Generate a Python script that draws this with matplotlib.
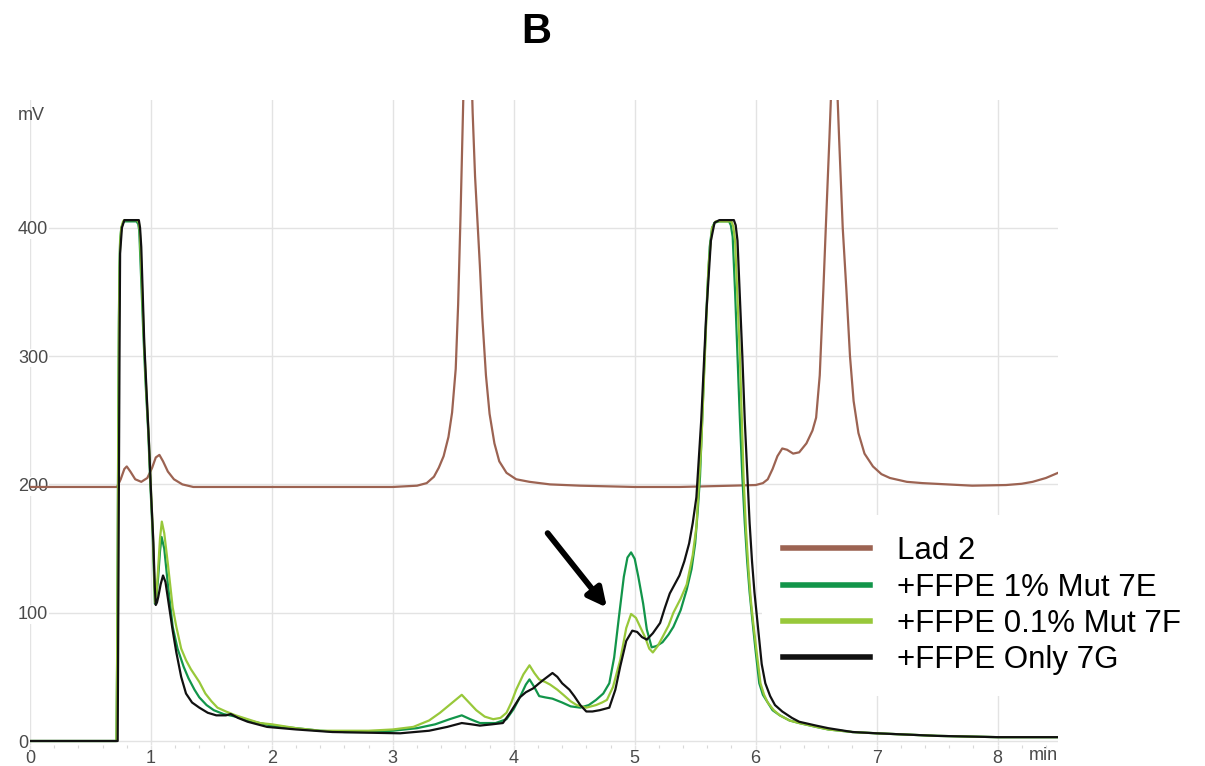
import numpy as np
import matplotlib
matplotlib.use('Agg')
import matplotlib.pyplot as plt

plt.rcParams['font.family'] = ['Liberation Sans', 'DejaVu Sans']

# --- data (time in min, signal in mV) ---
lad_t = [0, 0.5, 0.72, 0.75, 0.78, 0.80, 0.83, 0.87, 0.92, 0.97, 1.01, 1.04, 1.07, 1.10, 1.14, 1.19, 1.26, 1.35,
         1.5, 2.0, 2.5, 3.0, 3.2, 3.28, 3.34, 3.38, 3.42, 3.46, 3.49, 3.52, 3.54, 3.56, 3.58, 3.60, 3.62,
         3.64, 3.66, 3.68, 3.70, 3.72, 3.74, 3.77, 3.80, 3.84, 3.88, 3.94, 4.02, 4.13, 4.3, 4.55, 5.0, 5.37,
         5.8, 6.0, 6.06, 6.10, 6.14, 6.18, 6.22, 6.26, 6.31, 6.36, 6.42, 6.47, 6.50, 6.53, 6.56, 6.58, 6.61,
         6.63, 6.65, 6.67, 6.69, 6.72, 6.75, 6.78, 6.81, 6.85, 6.90, 6.97, 7.04, 7.11, 7.25, 7.38, 7.79,
         8.07, 8.2, 8.29, 8.4, 8.5]
lad_v = [198, 198, 198, 204, 212, 214, 210, 204, 202, 205, 213, 221, 223, 218, 210, 204, 200, 198,
         198, 198, 198, 198, 199, 201, 206, 213, 222, 237, 256, 290, 340, 410, 490, 570, 600,
         560, 490, 440, 405, 370, 330, 285, 255, 232, 218, 209, 204, 202, 200, 199, 198, 198,
         199, 199.5, 201, 204, 212, 222, 228, 227, 224, 225, 232, 242, 252, 285, 352, 400, 470,
         520, 560, 520, 470, 400, 352, 300, 265, 240, 224, 214, 208, 205, 202, 201, 199,
         199.5, 200.5, 202, 205, 209]

mut1_t = [0, 0.5, 0.715, 0.72, 0.725, 0.73, 0.735, 0.74, 0.745, 0.755, 0.77, 0.78, 0.88, 0.895, 0.903,
          0.915, 0.937, 0.955, 0.978, 0.995, 1.014, 1.025, 1.033, 1.045, 1.06, 1.075, 1.088, 1.11, 1.14,
          1.18, 1.22, 1.27, 1.31, 1.36, 1.40, 1.46, 1.52, 1.6, 1.7, 1.8, 1.9, 2.0, 2.2, 2.4, 2.6, 2.8,
          3.0, 3.2, 3.35, 3.47, 3.57, 3.64, 3.72, 3.85, 3.94, 4.0, 4.05, 4.10, 4.13, 4.17, 4.21, 4.26,
          4.32, 4.40, 4.47, 4.55, 4.62, 4.68, 4.74, 4.79, 4.83, 4.87, 4.91, 4.94, 4.97, 5.00, 5.03, 5.07,
          5.10, 5.14, 5.18, 5.23, 5.28, 5.32, 5.38, 5.43, 5.47, 5.50, 5.52, 5.54, 5.57, 5.60, 5.62, 5.64,
          5.66, 5.70, 5.78, 5.795, 5.81, 5.83, 5.85, 5.87, 5.89, 5.91, 5.93, 5.95, 5.97, 6.00, 6.03, 6.06,
          6.10, 6.14, 6.2, 6.28, 6.36, 6.5, 6.6, 6.8, 7.0, 7.5, 8.0, 8.5]
mut1_v = [0, 0, 0, 60, 150, 250, 330, 370, 390, 400, 404, 405, 405, 403, 398,
          370, 318, 280, 240, 200, 162, 130, 107, 112, 128, 148, 159, 150, 122,
          89, 72, 58, 49, 40, 34, 28, 24, 21, 19, 16, 14, 12, 10, 8, 7, 7,
          8, 10, 13, 17, 20, 17, 14, 14, 17, 25, 34, 44, 48, 42, 35, 34,
          33, 30, 27, 26, 28, 32, 37, 45, 65, 97, 128, 143, 147, 142, 128, 107,
          87, 73, 74, 77, 83, 89, 102, 118, 134, 154, 178, 206, 280, 350, 385, 400,
          404, 405, 405, 402, 393, 350, 300, 250, 206, 170, 140, 116, 97, 70, 45, 36,
          30, 24, 20, 16, 14, 11, 9, 7, 6, 4, 3, 3]

mut01_t = [0, 0.5, 0.715, 0.72, 0.725, 0.73, 0.735, 0.74, 0.745, 0.755, 0.77, 0.78, 0.885, 0.9, 0.908,
           0.92, 0.94, 0.958, 0.98, 0.998, 1.016, 1.027, 1.034, 1.046, 1.06, 1.075, 1.09, 1.11, 1.14,
           1.18, 1.21, 1.25, 1.29, 1.33, 1.40, 1.45, 1.50, 1.55, 1.62, 1.7, 1.8, 1.9, 2.0, 2.2, 2.4, 2.6,
           2.8, 3.0, 3.17, 3.3, 3.39, 3.48, 3.57, 3.63, 3.69, 3.76, 3.83, 3.89, 3.94, 3.98, 4.02, 4.08,
           4.13, 4.17, 4.21, 4.26, 4.30, 4.36, 4.41, 4.47, 4.52, 4.60, 4.68, 4.73, 4.77, 4.82, 4.88, 4.93,
           4.97, 5.01, 5.05, 5.09, 5.12, 5.15, 5.19, 5.23, 5.28, 5.32, 5.38, 5.43, 5.48, 5.51, 5.55, 5.58,
           5.61, 5.64, 5.67, 5.80, 5.815, 5.83, 5.85, 5.87, 5.90, 5.92, 5.94, 5.96, 5.98, 6.01, 6.04, 6.07,
           6.10, 6.15, 6.2, 6.28, 6.36, 6.5, 6.6, 6.8, 7.0, 7.5, 8.0, 8.5]
mut01_v = [0, 0, 0, 55, 140, 240, 320, 365, 388, 400, 405, 406, 406, 404, 398,
           370, 318, 280, 240, 200, 162, 130, 108, 115, 135, 158, 171, 162, 138,
           104, 89, 72, 63, 56, 46, 37, 31, 26, 23, 20, 17, 14, 13, 10, 8, 8,
           8, 9, 11, 16, 22, 29, 36, 30, 24, 19, 17, 18, 22, 30, 40, 52,
           59, 53, 48, 46, 44, 40, 36, 31, 28, 26, 28, 30, 32, 42, 63, 88,
           99, 96, 88, 80, 72, 69, 74, 81, 90, 100, 111, 122, 145, 167, 230, 300,
           370, 400, 405, 405, 401, 390, 345, 300, 206, 165, 135, 110, 92, 68, 45, 36,
           30, 24, 20, 16, 14, 11, 9, 7, 6, 4, 3, 3]

only_t = [0, 0.5, 0.725, 0.73, 0.735, 0.74, 0.745, 0.76, 0.78, 0.90, 0.91, 0.92, 0.945, 0.965, 0.985,
          1.0, 1.02, 1.032, 1.04, 1.05, 1.06, 1.08, 1.10, 1.12, 1.15, 1.18, 1.21, 1.25, 1.29, 1.34, 1.40,
          1.47, 1.54, 1.62, 1.66, 1.72, 1.8, 1.96, 2.2, 2.5, 3.06, 3.3, 3.45, 3.57, 3.65, 3.72, 3.82, 3.91,
          3.97, 4.05, 4.10, 4.16, 4.21, 4.25, 4.32, 4.36, 4.40, 4.46, 4.50, 4.55, 4.60, 4.65, 4.71, 4.79,
          4.84, 4.88, 4.93, 4.98, 5.02, 5.06, 5.10, 5.15, 5.21, 5.25, 5.29, 5.33, 5.37, 5.41, 5.45, 5.48,
          5.51, 5.55, 5.59, 5.63, 5.66, 5.70, 5.82, 5.835, 5.85, 5.87, 5.89, 5.91, 5.93, 5.95, 5.97, 5.99,
          6.02, 6.05, 6.08, 6.12, 6.16, 6.22, 6.3, 6.36, 6.5, 6.6, 6.8, 7.0, 7.5, 8.0, 8.5]
only_v = [0, 0, 0, 100, 200, 300, 380, 400, 406, 406, 400, 385, 310, 270, 230,
          195, 155, 120, 106, 108, 112, 122, 129, 124, 105, 86, 69, 50, 37, 30, 26,
          22, 20, 20, 21, 18, 15, 11, 9, 7, 6, 8, 11, 14, 13, 12, 13, 14,
          22, 34, 38, 41, 45, 48, 53, 50, 45, 40, 35, 28, 23, 23, 24, 26,
          40, 58, 78, 86, 85, 81, 79, 84, 92, 104, 115, 122, 129, 140, 154, 170,
          190, 250, 330, 390, 404, 406, 406, 402, 390, 345, 300, 250, 210, 170, 140, 116,
          88, 60, 45, 35, 28, 23, 18, 15, 12, 10, 7, 6, 4, 3, 3]

series = [('Lad 2', lad_t, lad_v, '#9c6352'),
          ('+FFPE 1% Mut 7E', mut1_t, mut1_v, '#12954a'),
          ('+FFPE 0.1% Mut 7F', mut01_t, mut01_v, '#98c83a'),
          ('+FFPE Only 7G', only_t, only_v, '#111111')]

x_ticks = [0, 1, 2, 3, 4, 5, 6, 7, 8]
y_ticks = [0, 100, 200, 300, 400]
arrow_tail = (4.28, 162)
arrow_head = (4.77, 104)

W, H = 1205, 766
fig = plt.figure(figsize=(W / 100, H / 100), dpi=100)
ax = fig.add_axes([30 / W, (H - 744.85) / H, 1028 / W, (744.85 - 99.5) / H])

for name, t, v, c in series:
    ax.plot(t, v, color=c, lw=1.6, label=name, solid_joinstyle='round', zorder=2)

ax.set_xlim(0, 8.5); ax.set_ylim(-3, 500)
ax.set_xticks(x_ticks); ax.set_yticks(y_ticks)
ax.set_xticks(np.arange(0, 8.5, 0.2), minor=True)
ax.grid(True, color='#e3e3e3', lw=1.0)
for s in ax.spines.values():
    s.set_visible(False)
ax.tick_params(axis='x', which='major', length=3.5, color='#e3e3e3', width=1.0, pad=0.3, labelsize=13, labelcolor='#4a4a4a')
ax.tick_params(axis='x', which='minor', length=2, color='#d8d8d8', width=0.8)
ax.tick_params(axis='y', length=0, pad=8.6, labelsize=13, labelcolor='#4a4a4a')
for lab in ax.get_yticklabels():
    lab.set_horizontalalignment('left')
    lab.set_bbox(dict(facecolor='white', edgecolor='none', pad=0.5))

ax.text(18 / W, (H - 115) / H, 'mV', transform=fig.transFigure, ha='left', va='center', fontsize=13, color='#4a4a4a')
ax.text(1058 / W, (H - 756) / H, 'min', transform=fig.transFigure, ha='right', va='center', fontsize=13, color='#4a4a4a')
fig.text(536 / W, (H - 32) / H, 'B', ha='center', va='center', fontsize=30, fontweight='bold')

ax.annotate('', xy=arrow_head, xytext=arrow_tail,
            arrowprops=dict(arrowstyle='-|>', lw=4.2, color='black', mutation_scale=28, shrinkA=0, shrinkB=0))

leg = ax.legend(loc='upper left', bbox_to_anchor=(762 / W, (H - 515) / H), bbox_transform=fig.transFigure,
                fontsize=22.5, frameon=True, fancybox=False, framealpha=1, edgecolor='none',
                handlelength=2.76, handletextpad=0.89, labelspacing=0.2, borderpad=0.68, borderaxespad=0)
leg.set_zorder(1.9)  # box hides the grid but not the traces
for h in leg.get_lines():
    h.set_linewidth(4.0)

fig.savefig('out.png', dpi=100)
